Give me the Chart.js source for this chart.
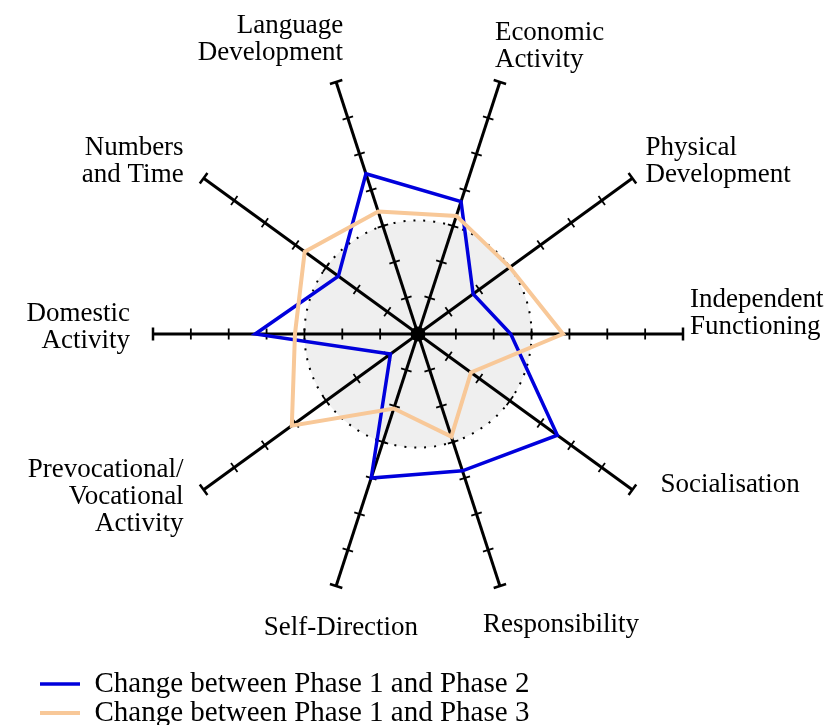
<!DOCTYPE html>
<html>
<head>
<meta charset="utf-8">
<title>Adaptive behaviour change</title>
<script src="https://cdn.jsdelivr.net/npm/chart.js@4.4.1/dist/chart.umd.min.js"></script>
<style>
  html, body { margin: 0; padding: 0; background: #fff; }
  #wrap { position: relative; width: 837px; height: 725px; }
</style>
</head>
<body>
<div id="wrap"><canvas id="radar"></canvas></div>
<script>
// domains, clockwise from the spoke just left of the top
const categories = [
  ['Language', 'Development'],
  ['Economic', 'Activity'],
  ['Physical', 'Development'],
  ['Independent', 'Functioning'],
  'Socialisation',
  'Responsibility',
  'Self-Direction',
  ['Prevocational/', 'Vocational', 'Activity'],
  ['Domestic', 'Activity'],
  ['Numbers', 'and Time'],
];

// change scores (0 = the shaded circle)
const phase2Change = [1.45, 0.68, -1.2, -0.55, 1.55, 0.8, 1.0, -2.1, 1.3, -0.4];
const phase3Change = [0.4, 0.28, 0.0, 0.83, -1.27, -0.15, -0.93, 1.12, 0.25, 0.7];

const seriesNames = ['Change between Phase 1 and Phase 2', 'Change between Phase 1 and Phase 3'];

// axis range / tick step
const scaleMin = -3;
const scaleMax = 4;
const scaleStep = 1;

// label placement relative to the end of each spoke: [dx, dy of first baseline, align]
const labelPlacement = [
  [7, -49, 'right'],
  [-5, -42, 'left'],
  [13, -23, 'left'],
  [7, -27, 'left'],
  [28, 2, 'left'],
  [-17, 46, 'left'],
  [82, 49, 'right'],
  [-20, -13, 'right'],
  [-23, -13, 'right'],
  [-20, -23, 'right'],
];

const FONT = '"Liberation Serif", "Times New Roman", serif';
Chart.defaults.font.family = FONT;
Chart.defaults.color = '#000';

// grey disc under the zero circle
const zeroDisc = {
  id: 'zeroDisc',
  beforeDraw(chart) {
    const s = chart.scales.r;
    const ctx = chart.ctx;
    ctx.save();
    ctx.fillStyle = '#efefef';
    ctx.beginPath();
    ctx.arc(s.xCenter, s.yCenter, s.getDistanceFromCenterForValue(0), 0, Math.PI * 2);
    ctx.fill();
    ctx.restore();
  }
};

// cross ticks on every spoke + end caps + hub
const spokeTicks = {
  id: 'spokeTicks',
  beforeDatasetsDraw(chart) {
    const s = chart.scales.r;
    const ctx = chart.ctx;
    const n = chart.data.labels.length;
    ctx.save();
    ctx.strokeStyle = '#000';
    s.ticks.forEach(t => {
      if (t.value <= s.min) return;
      const d = s.getDistanceFromCenterForValue(t.value);
      const isEnd = t.value === s.max;
      const half = isEnd ? 6.5 : 5.5;
      ctx.lineWidth = isEnd ? 2.5 : 1.8;
      for (let i = 0; i < n; i++) {
        const p = s.getPointPosition(i, d);
        const nx = -Math.sin(p.angle), ny = Math.cos(p.angle);
        ctx.beginPath();
        ctx.moveTo(p.x - nx * half, p.y - ny * half);
        ctx.lineTo(p.x + nx * half, p.y + ny * half);
        ctx.stroke();
      }
    });
    ctx.fillStyle = '#000';
    ctx.beginPath();
    ctx.arc(s.xCenter, s.yCenter, 7.5, 0, Math.PI * 2);
    ctx.fill();
    ctx.restore();
  }
};

// domain names drawn at the spoke ends
const axisLabels = {
  id: 'axisLabels',
  afterDatasetsDraw(chart) {
    const s = chart.scales.r;
    const ctx = chart.ctx;
    const outer = s.getDistanceFromCenterForValue(s.max);
    ctx.save();
    ctx.font = '27px ' + FONT;
    ctx.fillStyle = '#000';
    ctx.textBaseline = 'alphabetic';
    chart.data.labels.forEach((lbl, i) => {
      const p = s.getPointPosition(i, outer);
      const [dx, dy, align] = labelPlacement[i];
      ctx.textAlign = align;
      [].concat(lbl).forEach((line, k) => {
        ctx.fillText(line, p.x + dx, p.y + dy + k * 27);
      });
    });
    ctx.restore();
  }
};

new Chart(document.getElementById('radar'), {
  type: 'radar',
  data: {
    labels: categories,
    datasets: [
      {
        label: seriesNames[0],
        data: phase2Change,
        borderColor: '#0000dc',
        backgroundColor: '#0000dc',
        borderWidth: 3.5,
        order: 1,
      },
      {
        label: seriesNames[1],
        data: phase3Change,
        borderColor: '#f8c898',
        backgroundColor: '#f8c898',
        borderWidth: 4,
        order: 0,
      }
    ]
  },
  options: {
    responsive: true,
    maintainAspectRatio: false,
    animation: false,
    events: [],
    layout: { padding: { top: 69, left: 40, right: 40, bottom: 0 } },
    elements: {
      line: { fill: false, tension: 0, borderJoinStyle: 'miter' },
      point: { radius: 0, hoverRadius: 0 }
    },
    scales: {
      r: {
        min: scaleMin,
        max: scaleMax,
        startAngle: -18,
        beginAtZero: false,
        ticks: { display: false, stepSize: scaleStep },
        pointLabels: { display: false },
        angleLines: { color: '#000', lineWidth: 3 },
        grid: {
          circular: true,
          color: c => (c.tick && c.tick.value === 0 ? '#000' : 'transparent'),
          lineWidth: c => (c.tick && c.tick.value === 0 ? 2 : 0),
        },
        border: { dash: [2, 8] }
      }
    },
    plugins: {
      tooltip: { enabled: false },
      legend: {
        position: 'bottom',
        align: 'start',
        maxHeight: 126,
        // empty title only used as a spacer between the web and the legend
        title: { display: true, text: '', padding: { top: 56, bottom: 0 } },
        labels: {
          usePointStyle: true,
          pointStyle: 'line',
          pointStyleWidth: 40,
          padding: 0,
          color: '#000',
          font: { size: 29, family: FONT },
          sort: (a, b) => a.datasetIndex - b.datasetIndex
        }
      }
    }
  },
  plugins: [zeroDisc, spokeTicks, axisLabels]
});
</script>
</body>
</html>
